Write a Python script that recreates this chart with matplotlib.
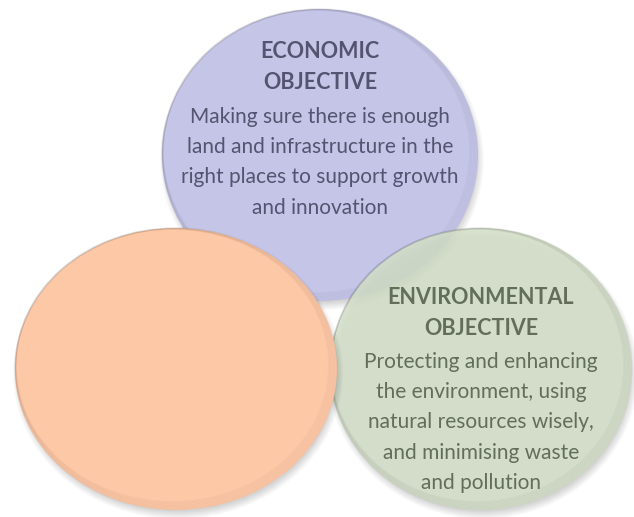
import matplotlib.pyplot as plt
from matplotlib.patches import Ellipse

# circle titles and descriptions
titles = [["ECONOMIC", "OBJECTIVE"], [], ["ENVIRONMENTAL", "OBJECTIVE"]]
descriptions = [
    ["Making sure there is enough", "land and infrastructure in the",
     "right places to support growth", "and innovation"],
    [],
    ["Protecting and enhancing", "the environment, using",
     "natural resources wisely,", "and minimising waste", "and pollution"],
]
fills = ["#c5c5e8", "#fdc8a6", "#d3dfc7"]
text_colors = ["#545470", "#6a5048", "#626d5a"]

# geometry in pixel coords: (cx, cy, w, h)
shapes = [(320, 155, 316, 292), (176, 369, 322, 282), (481, 369, 302, 282)]
alphas = [1.0, 1.0, 0.85]
order = [0, 2, 1]
# text anchor: (x, first title line y, first body line y)
text_pos = [(320, 52, 117), None, (481, 298, 362)]

fig = plt.figure(figsize=(6.34, 5.17), dpi=100)
ax = fig.add_axes([0, 0, 1, 1])
ax.set_xlim(0, 634)
ax.set_ylim(517, 0)
ax.axis("off")

z = 1
for i in order:
    cx, cy, w, h = shapes[i]
    # soft drop shadow
    for k in range(8):
        ax.add_patch(Ellipse((cx + 2, cy + 5), w + 8 - k * 2, h + 8 - k * 2,
                             color="#000000", alpha=0.02, lw=0, zorder=z))
    z += 1
    ax.add_patch(Ellipse((cx, cy), w, h, facecolor=fills[i], alpha=alphas[i],
                         edgecolor="none", zorder=z))
    z += 1
    # bevel shading near the rim, heavier toward the lower right
    for k in range(7):
        ax.add_patch(Ellipse((cx - 0.6 * k, cy - 0.6 * k), w - k * 1.5,
                             h - k * 1.5, facecolor="none",
                             edgecolor="#000000", alpha=0.022, lw=1.3,
                             zorder=z))
    z += 1

font = "Lato"
for i, pos in enumerate(text_pos):
    if pos is None:
        continue
    x, ty, by = pos
    for j, line in enumerate(titles[i]):
        ax.text(x, ty + j * 30.5, line, ha="center", va="center",
                fontsize=15.5, fontweight="bold", color=text_colors[i],
                family=font, zorder=20)
    for j, line in enumerate(descriptions[i]):
        ax.text(x, by + j * 30.2, line, ha="center", va="center",
                fontsize=15, color=text_colors[i], family=font, zorder=20)

fig.savefig("out.png", dpi=100, facecolor="white")
